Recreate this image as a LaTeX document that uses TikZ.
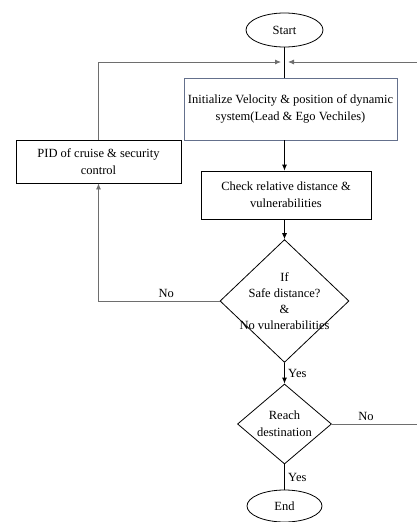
\documentclass[tikz,border=0pt]{standalone}
\usepackage{fontspec}
\setmainfont{Liberation Serif}
\usetikzlibrary{shapes.geometric,arrows.meta}
\definecolor{initblue}{RGB}{100,112,140}
\definecolor{loopgray}{RGB}{110,110,110}
\tikzset{
	flow/.style={line width=0.8pt,-{Latex[length=6pt,width=5pt]}},
	plain/.style={line width=0.8pt},
	term/.style={ellipse,draw,line width=0.8pt,inner sep=0pt},
	stepbox/.style={rectangle,draw,line width=0.8pt,align=center,inner sep=2pt},
	decide/.style={diamond,draw,line width=0.8pt,align=center,inner sep=-6pt}
}
\begin{document}
\begin{tikzpicture}[x=1pt,y=-1pt,font=\fontsize{12.5}{17}\selectfont]
		\useasboundingbox (0,0) rectangle (417,522);
		
		\node [term,minimum width=77,minimum height=34] (start) at (284.5,30) {Start};
		\node [stepbox,draw=initblue,minimum width=213,minimum height=62] (init) at (290.5,109) {Initialize Velocity \& position of dynamic \\ system(Lead \& Ego Vechiles)};
		\node [stepbox,minimum width=165,minimum height=43] (pid) at (98.5,161.5) {PID of cruise \& security \\ control};
		\node [stepbox,minimum width=170,minimum height=48] (check) at (286,195) {Check relative distance \& \\ vulnerabilities};
		\node [decide,minimum width=129,minimum height=114,font=\fontsize{12.5}{16}\selectfont] (safe) at (284.5,301) {If \\ Safe distance? \\ \& \\ No vulnerabilities};
		\node [decide,minimum width=94,minimum height=80] (reach) at (284.5,424) {Reach \\ destination};
		\node [term,minimum width=75,minimum height=32] (end) at (284.5,506) {End};
		
		\coordinate (joinL) at (281,62);
		\coordinate (joinR) at (288,62);
		\coordinate (edgeT) at (417,62);
		\coordinate (edgeB) at (417,424);
		
		\draw [plain] (start.south) -- (start.south |- init.north);
		\draw [flow] (start.south |- init.south) -- (start.south |- check.north);
		\draw [flow] (start.south |- check.south) -- (safe.north);
		\draw [flow] (safe) -- node [right] {Yes} (reach);
		\draw [plain] (reach) -- node [right] {Yes} (end);
		
		\begin{scope}[loopgray]
			\draw [flow] (pid.north) |- (joinL);
			\draw [flow] (edgeT) -- (joinR);
			\draw [flow] (safe.west) -| node [pos=0.22,above,black] {No} (pid.south);
			\draw [plain] (reach.east) -- node [pos=0.4,above,black] {No} (edgeB);
		\end{scope}
	\end{tikzpicture}
\end{document}
